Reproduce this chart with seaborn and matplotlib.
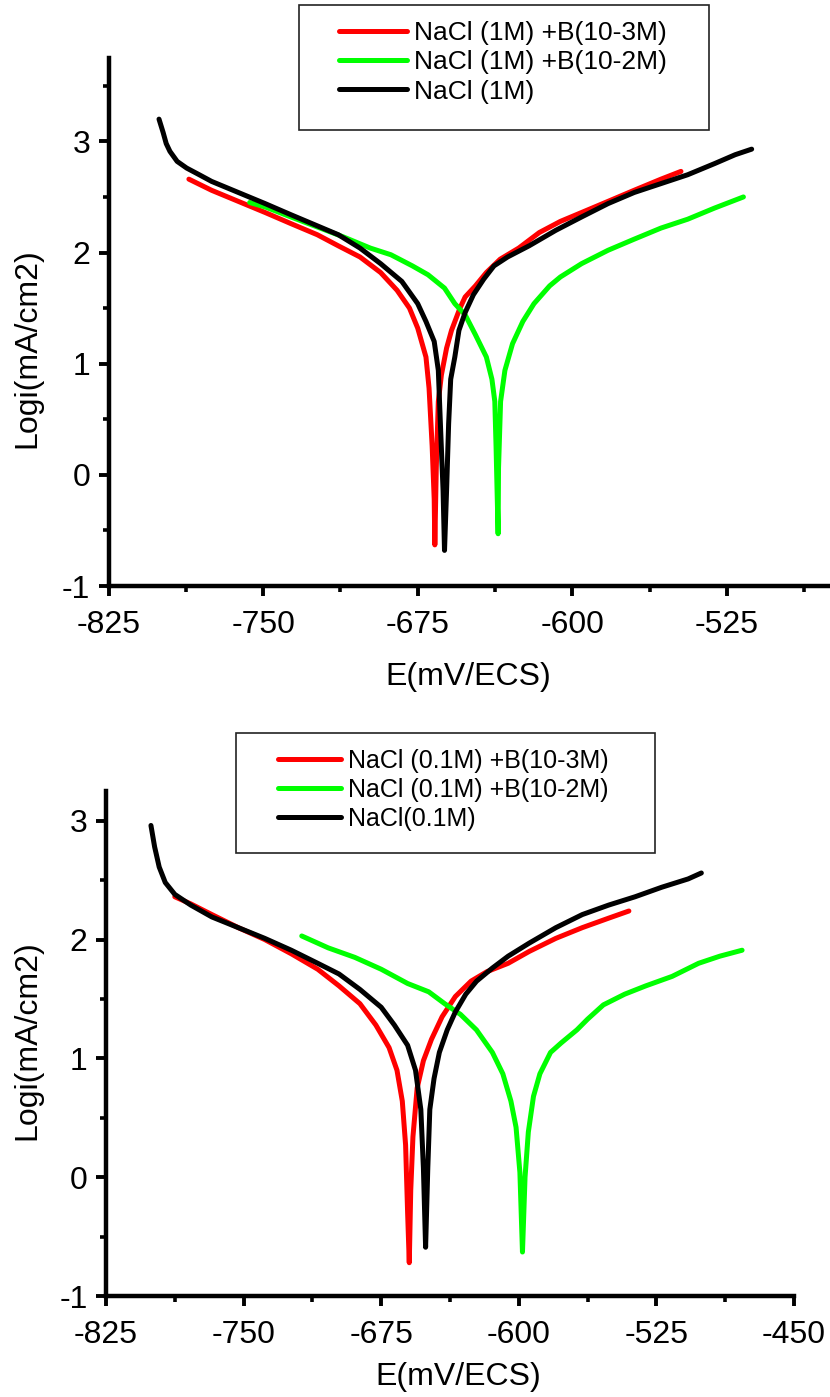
import numpy as np
import pandas as pd
import seaborn as sns
import matplotlib
matplotlib.use("Agg")
import matplotlib.pyplot as plt
from matplotlib.patches import Rectangle
from matplotlib.lines import Line2D
from matplotlib.ticker import MultipleLocator

# ---------------- DATA (top panel: NaCl 1M) ----------------
top_labels = ["NaCl (1M) +B(10-3M)", "NaCl (1M) +B(10-2M)", "NaCl (1M)"]

top_red_E = [-786, -775, -762, -749, -736.5, -723.7, -713.5, -703, -693, -685, -679, -675,
             -671, -669.5, -668, -667, -666.7, -666, -665, -663.5, -661, -658.6, -654.5,
             -652, -647, -641.7, -635, -626, -616, -605.8, -595.5, -582.7, -570, -557, -547.3]
top_red_logi = [2.66, 2.56, 2.46, 2.36, 2.26, 2.16, 2.06, 1.96, 1.82, 1.66, 1.50, 1.32,
                1.06, 0.78, 0.26, -0.22, -0.63, 0.06, 0.66, 0.90, 1.14, 1.30, 1.50,
                1.60, 1.70, 1.82, 1.94, 2.04, 2.18, 2.28, 2.36, 2.46, 2.56, 2.66, 2.73]

top_green_E = [-756.5, -749, -736.5, -723.7, -711, -698, -688, -677.6, -670, -662, -657, -652,
               -647, -641.7, -639, -637.6, -637, -636.5, -636, -635.8, -634.8, -632.7, -629,
               -624, -618.6, -611, -605.8, -595.5, -582.7, -570, -557, -544, -531, -517]
top_green_logi = [2.45, 2.41, 2.32, 2.23, 2.14, 2.04, 1.98, 1.88, 1.80, 1.68, 1.54, 1.44,
                  1.26, 1.06, 0.86, 0.66, 0.26, -0.14, -0.53, 0.06, 0.66, 0.94, 1.18,
                  1.38, 1.54, 1.70, 1.78, 1.90, 2.02, 2.12, 2.22, 2.30, 2.40, 2.50]

top_black_E = [-800.5, -798.5, -797, -795.2, -791.7, -787.1, -781, -775, -762, -749, -736.5,
               -723.7, -713.5, -703, -693, -682.7, -675, -671, -667, -665, -664, -662.7, -662,
               -661, -660, -659, -657, -655, -652, -648, -643, -638, -631.4, -621, -608,
               -595.5, -582.7, -570, -557, -544, -531, -521, -513]
top_black_logi = [3.20, 3.08, 2.98, 2.91, 2.82, 2.76, 2.70, 2.64, 2.54, 2.44, 2.34,
                  2.24, 2.16, 2.04, 1.90, 1.74, 1.54, 1.38, 1.20, 0.94, 0.46, -0.14, -0.68,
                  -0.14, 0.46, 0.86, 1.06, 1.30, 1.46, 1.62, 1.76, 1.88, 1.96, 2.06, 2.20,
                  2.32, 2.44, 2.54, 2.62, 2.70, 2.80, 2.88, 2.93]

# ---------------- DATA (bottom panel: NaCl 0.1M) ----------------
bot_labels = ["NaCl (0.1M) +B(10-3M)", "NaCl (0.1M) +B(10-2M)", "NaCl(0.1M)"]

bot_red_E = [-787.5, -778.8, -767.3, -752.9, -738.5, -724, -709.6, -698, -686.6, -677.9, -670.7,
             -666.4, -663.5, -661.7, -660.6, -659.7, -658.9, -657.7, -655.4, -652, -647.6,
             -641.8, -634.6, -626, -617.3, -605.8, -594.3, -579.8, -565.4, -551, -540]
bot_red_logi = [2.36, 2.30, 2.21, 2.10, 2.00, 1.88, 1.75, 1.61, 1.46, 1.28, 1.09,
                0.90, 0.64, 0.27, -0.30, -0.72, -0.11, 0.34, 0.75, 0.98, 1.16,
                1.35, 1.52, 1.65, 1.73, 1.80, 1.90, 2.01, 2.10, 2.18, 2.24]

bot_green_E = [-718.3, -703.9, -689.4, -675, -660.6, -649.1, -640.4, -631.8, -623.1, -614.4,
               -608.7, -604.3, -601.5, -599.4, -598, -596.6, -594.8, -592, -588.5, -582.7,
               -576.9, -568.3, -562.5, -553.9, -542.3, -530.8, -516.4, -502, -490.4, -478.3]
bot_green_logi = [2.03, 1.93, 1.85, 1.75, 1.63, 1.56, 1.46, 1.37, 1.24, 1.05,
                  0.87, 0.64, 0.42, 0.04, -0.63, 0.00, 0.38, 0.68, 0.87, 1.05,
                  1.13, 1.24, 1.33, 1.45, 1.54, 1.61, 1.69, 1.80, 1.86, 1.91]

bot_black_E = [-800.5, -798.5, -796, -792.7, -787.5, -778.8, -767.3, -752.9, -738.5, -724,
               -709.6, -698, -686.6, -675, -667.8, -660.6, -656.3, -653.4, -652, -650.8,
               -649.6, -648.5, -646.2, -643.3, -639, -634.6, -628.9, -623, -614.4, -605.8,
               -594.3, -579.8, -565.4, -551, -536.6, -522.1, -507.7, -500.5]
bot_black_logi = [2.96, 2.78, 2.61, 2.48, 2.38, 2.29, 2.19, 2.10, 2.01, 1.91,
                  1.80, 1.71, 1.58, 1.43, 1.28, 1.11, 0.90, 0.57, 0.08, -0.59,
                  0.08, 0.57, 0.83, 1.05, 1.24, 1.39, 1.54, 1.65, 1.76, 1.86,
                  1.97, 2.10, 2.21, 2.29, 2.36, 2.44, 2.51, 2.56]

x_ticks_top = [-825, -750, -675, -600, -525]
x_ticks_bot = [-825, -750, -675, -600, -525, -450]
y_ticks = [-1, 0, 1, 2, 3]

colors = ["#ff0000", "#00ff00", "#000000"]


def make_df(labels, series):
    frames = []
    for lab, (E, L) in zip(labels, series):
        frames.append(pd.DataFrame({"E": E, "logi": L, "series": lab, "idx": np.arange(len(E))}))
    return pd.concat(frames, ignore_index=True)


df_top = make_df(top_labels, [(top_red_E, top_red_logi), (top_green_E, top_green_logi),
                              (top_black_E, top_black_logi)])
df_bot = make_df(bot_labels, [(bot_red_E, bot_red_logi), (bot_green_E, bot_green_logi),
                              (bot_black_E, bot_black_logi)])

sns.set_theme(style="ticks")
plt.rcParams["font.family"] = ["Liberation Sans", "DejaVu Sans"]
plt.rcParams["axes.unicode_minus"] = False

W, H = 830, 1397
fig = plt.figure(figsize=(W / 100, H / 100), dpi=100)
fig.patch.set_facecolor("white")

ax1 = fig.add_axes([108.5 / W, 1 - 586 / H, 1 - 108.5 / W, (586 - 58) / H])
ax2 = fig.add_axes([106 / W, 1 - 1296 / H, (794 - 106) / W, (1296 - 791) / H])

LW = 3.6
FS = 23


def style_axis(ax, df, labels, xlim, ylim, xticks):
    sns.lineplot(data=df, x="E", y="logi", hue="series", hue_order=labels,
                 palette=colors, sort=False, estimator=None, linewidth=LW,
                 legend=False, ax=ax)
    ax.set_xlim(*xlim)
    ax.set_ylim(*ylim)
    ax.set_xticks(xticks)
    ax.set_yticks(y_ticks)
    ax.xaxis.set_minor_locator(MultipleLocator(37.5))
    ax.yaxis.set_minor_locator(MultipleLocator(0.5))
    for s in ["top", "right"]:
        ax.spines[s].set_visible(False)
    for s in ["left", "bottom"]:
        ax.spines[s].set_linewidth(3.2)
        ax.spines[s].set_color("black")
        ax.spines[s].set_capstyle("projecting")
    ax.tick_params(axis="both", which="major", direction="out", length=7.2, width=2.8,
                   labelsize=FS, colors="black")
    ax.tick_params(axis="both", which="minor", direction="out", length=4.3, width=2.6,
                   colors="black")
    ax.tick_params(axis="x", which="major", pad=10)
    ax.tick_params(axis="y", which="major", pad=6)
    ax.set_xlabel("E(mV/ECS)", fontsize=FS, color="black")
    ax.set_ylabel("Logi(mA/cm2)", fontsize=FS, color="black")
    ax.set_facecolor("white")
    ax.grid(False)


style_axis(ax1, df_top, top_labels, (-825, -475), (-1, 3.75), x_ticks_top)
style_axis(ax2, df_bot, bot_labels, (-825, -450), (-1, 3.25), x_ticks_bot)

# label positions
ax1.xaxis.set_label_coords((468 - 108.5) / (W - 108.5), -(677 - 586) / (586 - 58))
ax1.yaxis.set_label_coords(-(108.5 - 27) / (W - 108.5), (586 - 348) / (586 - 58))
ax2.xaxis.set_label_coords((458 - 106) / (794 - 106), -(1377 - 1296) / (1296 - 791))
ax2.yaxis.set_label_coords(-(106 - 27) / (794 - 106), (1296 - 1040) / (1296 - 791))
for ax in (ax1, ax2):
    ax.xaxis.label.set_verticalalignment("center")
    ax.yaxis.label.set_verticalalignment("center")

# legends
handles = [Line2D([0], [0], color=c, lw=LW) for c in colors]
leg1 = ax1.legend(handles, top_labels, loc="upper left",
                  bbox_to_anchor=(339 / W, 1 - 21 / H), bbox_transform=fig.transFigure,
                  frameon=False, fontsize=19, handlelength=2.58, handletextpad=0.25,
                  labelspacing=0.2, borderpad=0, borderaxespad=0)
leg2 = ax2.legend(handles, bot_labels, loc="upper left",
                  bbox_to_anchor=(278 / W, 1 - 749 / H), bbox_transform=fig.transFigure,
                  frameon=False, fontsize=18, handlelength=2.5, handletextpad=0.3,
                  labelspacing=0.2, borderpad=0, borderaxespad=0)
for leg in (leg1, leg2):
    for t in leg.get_texts():
        t.set_color("black")

fig.patches.append(Rectangle((299 / W, 1 - 130 / H), 410 / W, 125 / H, transform=fig.transFigure,
                             fill=False, edgecolor="#222222", linewidth=1.2, figure=fig))
fig.patches.append(Rectangle((236 / W, 1 - 853 / H), 419 / W, 120 / H, transform=fig.transFigure,
                             fill=False, edgecolor="#222222", linewidth=1.2, figure=fig))

fig.savefig("out.png", dpi=100, facecolor="white")
